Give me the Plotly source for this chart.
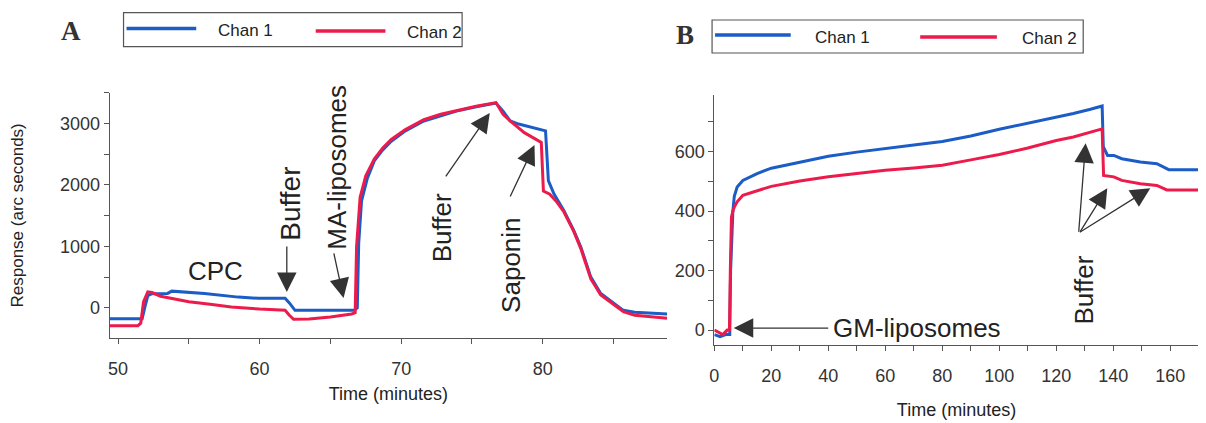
import plotly.graph_objects as go

# ---------------- data ----------------
# Panel A
a_t1 = [49.4, 51.7, 51.9, 52.1, 52.4, 53.5, 53.8, 56.1, 58.5, 59.9, 61.8, 62.1, 62.5, 66.7,
        66.9, 67.0, 67.2, 67.6, 68.1, 68.7, 69.3, 70.3, 71.6, 72.8, 73.9, 75.3, 76.7,
        77.2, 77.7, 78.3, 79.0, 80.2, 80.4, 80.8, 81.5, 82.2, 82.7, 83.4, 84.1, 85.0,
        85.7, 86.5, 88.8]
a_v1 = [-175, -175, 20, 200, 230, 235, 272, 235, 175, 155, 155, 80, -40, -40,
        0, 1050, 1740, 2100, 2390, 2570, 2710, 2880, 3040, 3130, 3200, 3270, 3330,
        3200, 3040, 2990, 2950, 2880, 2070, 1850, 1580, 1257, 987, 500, 235, 75,
        -40, -70, -100]
a_t2 = [49.4, 51.4, 51.6, 51.8, 52.1, 52.4, 53.0, 54.0, 55.0, 56.5, 58.0, 60.0, 61.8, 62.1,
        62.4, 63.5, 65.0, 66.5, 66.75, 66.85, 67.1, 67.5, 68.1, 68.7, 69.3, 70.3, 71.6,
        72.8, 73.9, 75.3, 76.7, 77.2, 77.7, 78.7, 79.9, 80.05, 80.5, 81.0, 81.5, 82.2,
        82.7, 83.4, 84.1, 85.0, 85.7, 86.5, 88.8]
a_v2 = [-290, -290, -250, 100, 260, 250, 190, 140, 100, 60, 15, -20, -40, -120,
        -185, -180, -150, -100, -80, 1000, 1800, 2150, 2420, 2600, 2740, 2900, 3060,
        3150, 3210, 3280, 3340, 3150, 3040, 2850, 2690, 1900, 1850, 1720, 1560, 1240,
        960, 470, 210, 50, -60, -120, -170]

# Panel B
b_t1 = [0, 2, 4, 5.4, 5.7, 6.0, 6.5, 7, 8, 10, 15, 20, 30, 40, 50, 60, 70, 80, 90, 100,
        110, 120, 126, 132, 136.1, 136.5, 138, 140.2, 143, 149.5, 155.3, 159.5, 162, 170]
b_v1 = [-15, -22, -15, -15, 200, 290, 400, 450, 481, 503, 526, 544, 565, 584, 598, 611,
        622, 634, 652, 675, 695, 715, 728, 742, 753, 616, 587, 587, 576, 565, 559, 539,
        539, 539]
b_t2 = [0, 1.5, 3, 4.5, 5.3, 5.6, 6.0, 6.5, 7, 8, 10, 20, 30, 40, 50, 60, 70, 80, 90, 100,
        110, 120, 126, 132, 136.1, 136.6, 140.2, 143, 149.5, 155.3, 158.8, 162, 170]
b_v2 = [0, -8, -15, 0, 0, 200, 380, 400, 414, 431, 453, 483, 501, 515, 527, 537, 545, 554,
        572, 590, 612, 637, 649, 664, 676, 520, 515, 503, 492, 486, 471, 471, 471]

series_names = ["Chan 1", "Chan 2"]
BLUE = "#1b5cc6"
RED = "#ec1b4b"

a_xticks = [50, 60, 70, 80]
a_yticks = [0, 1000, 2000, 3000]
b_xticks = [0, 20, 40, 60, 80, 100, 120, 140, 160]
b_yticks = [0, 200, 400, 600]

# the page body has an 8px margin, so the figure is sized to fit inside the window
OX, OY = 8, 8
W, H = 1198, 415
FONT = "Liberation Sans, Arial, sans-serif"
SERIF = "Liberation Serif, Times New Roman, serif"


def px(x):
    return (x - OX) / W


def py(y):
    return 1 - (y - OY) / H


fig = go.Figure()
fig.add_trace(go.Scatter(x=a_t1, y=a_v1, mode="lines", name=series_names[0],
                         line=dict(color=BLUE, width=3), xaxis="x", yaxis="y", showlegend=False))
fig.add_trace(go.Scatter(x=a_t2, y=a_v2, mode="lines", name=series_names[1],
                         line=dict(color=RED, width=3), xaxis="x", yaxis="y", showlegend=False))
fig.add_trace(go.Scatter(x=b_t1, y=b_v1, mode="lines", name=series_names[0],
                         line=dict(color=BLUE, width=3), xaxis="x2", yaxis="y2", showlegend=False))
fig.add_trace(go.Scatter(x=b_t2, y=b_v2, mode="lines", name=series_names[1],
                         line=dict(color=RED, width=3), xaxis="x2", yaxis="y2", showlegend=False))

axcommon = dict(showline=True, linecolor="#555", linewidth=1, showgrid=False, zeroline=False,
                ticks="outside", ticklen=5, tickwidth=1, tickcolor="#555",
                tickfont=dict(family=FONT, size=18, color="#333"))
# inner halves of the crossing tick marks (overlay axes without labels)
incommon = dict(showline=False, showgrid=False, zeroline=False, showticklabels=False,
                ticks="inside", ticklen=4, tickwidth=1, tickcolor="#555")

fig.update_layout(
    width=W, height=H,
    margin=dict(l=0, r=0, t=0, b=0),
    paper_bgcolor="white", plot_bgcolor="white",
    showlegend=False,
    font=dict(family=FONT, color="#333"),
    xaxis=dict(domain=[px(105), px(665)], range=[49.4, 88.8], tickvals=a_xticks,
               minor=dict(dtick=5, tick0=50, ticks="outside", ticklen=5, tickcolor="#555"),
               ticklabelstandoff=9, anchor="y",
               title=dict(text="Time (minutes)", font=dict(family=FONT, size=18, color="#222"), standoff=9),
               **axcommon),
    yaxis=dict(domain=[py(338), py(92.7)], range=[-490, 3500], tickvals=a_yticks,
               minor=dict(dtick=500, tick0=0, ticks="outside", ticklen=5, tickcolor="#555"),
               anchor="x",
               title=dict(text="Response (arc seconds)", font=dict(family=FONT, size=17, color="#222"), standoff=31),
               **axcommon),
    xaxis2=dict(domain=[px(712.3), px(1198.7)], range=[0, 170], tickvals=b_xticks,
                minor=dict(dtick=10, tick0=0, ticks="outside", ticklen=5, tickcolor="#555"),
                ticklabelstandoff=9, anchor="y2",
                title=dict(text="Time (minutes)", font=dict(family=FONT, size=18, color="#222"), standoff=18),
                **axcommon),
    yaxis2=dict(domain=[py(345), py(95)], range=[-50, 790], tickvals=b_yticks,
                minor=dict(dtick=100, tick0=0, ticks="outside", ticklen=5, tickcolor="#555"),
                anchor="x2", **axcommon),
    xaxis3=dict(overlaying="x", anchor="y", side="bottom", range=[49.4, 88.8], tickvals=a_xticks,
                minor=dict(dtick=5, tick0=50, ticks="inside", ticklen=4, tickcolor="#555"), **incommon),
    yaxis3=dict(overlaying="y", anchor="x", side="left", range=[-490, 3500], tickvals=a_yticks,
                minor=dict(dtick=500, tick0=0, ticks="inside", ticklen=4, tickcolor="#555"), **incommon),
    xaxis4=dict(overlaying="x2", anchor="y2", side="bottom", range=[0, 170], tickvals=b_xticks,
                minor=dict(dtick=10, tick0=0, ticks="inside", ticklen=4, tickcolor="#555"), **incommon),
    yaxis4=dict(overlaying="y2", anchor="x2", side="left", range=[-50, 790], tickvals=b_yticks,
                minor=dict(dtick=100, tick0=0, ticks="inside", ticklen=4, tickcolor="#555"), **incommon),
)

ann = []
shapes = []

# panel letters
ann.append(dict(text="<b>A</b>", x=px(66), y=py(31), xref="paper", yref="paper", showarrow=False,
                font=dict(family=SERIF, size=27, color="#333"), xanchor="center", yanchor="middle"))
ann.append(dict(text="<b>B</b>", x=px(683), y=py(35), xref="paper", yref="paper", showarrow=False,
                font=dict(family=SERIF, size=27, color="#333"), xanchor="center", yanchor="middle"))

# legends (drawn boxes)
def legend_box(x0, y0, x1, y1, items):
    shapes.append(dict(type="rect", xref="paper", yref="paper", x0=px(x0), x1=px(x1),
                       y0=py(y1), y1=py(y0), line=dict(color="#555", width=1.2), fillcolor="white"))
    for (lx0, lx1, ly, color, tx, name) in items:
        shapes.append(dict(type="line", xref="paper", yref="paper", x0=px(lx0), x1=px(lx1),
                           y0=py(ly), y1=py(ly), line=dict(color=color, width=3.5)))
        ann.append(dict(text=name, x=px(tx), y=py(ly + 2), xref="paper", yref="paper",
                        showarrow=False, xanchor="left", yanchor="middle",
                        font=dict(family=FONT, size=17, color="#222")))

legend_box(119, 12.7, 459, 46.7, [(122, 192, 28.5, BLUE, 212, series_names[0]),
                                   (312, 382, 31, RED, 402, series_names[1])])
legend_box(710, 20, 1082.7, 53, [(713, 789, 35, BLUE, 811, series_names[0]),
                                  (919, 996, 37, RED, 1019, series_names[1])])

AFONT = dict(family=FONT, size=26, color="#222")
ARROW = dict(showarrow=True, arrowhead=2, arrowsize=3.0, arrowwidth=1.3, arrowcolor="#333", text="")

# Panel A labels
ann.append(dict(text="CPC", x=56.86, y=600, xref="x", yref="y", showarrow=False, font=AFONT))
ann.append(dict(text="Buffer", x=62.2, y=1690, xref="x", yref="y", showarrow=False,
                font=dict(family=FONT, size=28, color="#222"), textangle=-90))
ann.append(dict(x=61.92, y=258, xref="x", yref="y", ax=0, ay=-47, **ARROW))
ann.append(dict(text="MA-liposomes", x=65.44, y=2291, xref="x", yref="y", showarrow=False, font=AFONT, textangle=-90))
ann.append(dict(x=65.93, y=161, xref="x", yref="y", ax=-10, ay=-46, **ARROW))
ann.append(dict(text="Buffer", x=72.9, y=1299, xref="x", yref="y", showarrow=False, font=AFONT, textangle=-90))
ann.append(dict(x=76.26, y=3170, xref="x", yref="y", ax=-45, ay=65, **ARROW))
ann.append(dict(text="Saponin", x=77.75, y=697, xref="x", yref="y", showarrow=False, font=AFONT, textangle=-90))
ann.append(dict(x=79.42, y=2649, xref="x", yref="y", ax=-25, ay=53, **ARROW))

# Panel B labels
ann.append(dict(text="GM-liposomes", x=41.1, y=7, xref="x2", yref="y2", showarrow=False,
                font=AFONT, xanchor="left", yanchor="middle"))
ann.append(dict(x=6.8, y=7, xref="x2", yref="y2", ax=96, ay=0, **ARROW))
ann.append(dict(text="Buffer", x=129.6, y=135, xref="x2", yref="y2", showarrow=False, font=AFONT, textangle=-90))
ann.append(dict(x=130.3, y=628, xref="x2", yref="y2", ax=-7, ay=90, **ARROW))
ann.append(dict(x=137.9, y=477, xref="x2", yref="y2", ax=-28, ay=45, **ARROW))
ann.append(dict(x=153.0, y=477, xref="x2", yref="y2", ax=-72, ay=45, **ARROW))

fig.update_layout(annotations=ann, shapes=shapes)
fig.write_html("out.html")
